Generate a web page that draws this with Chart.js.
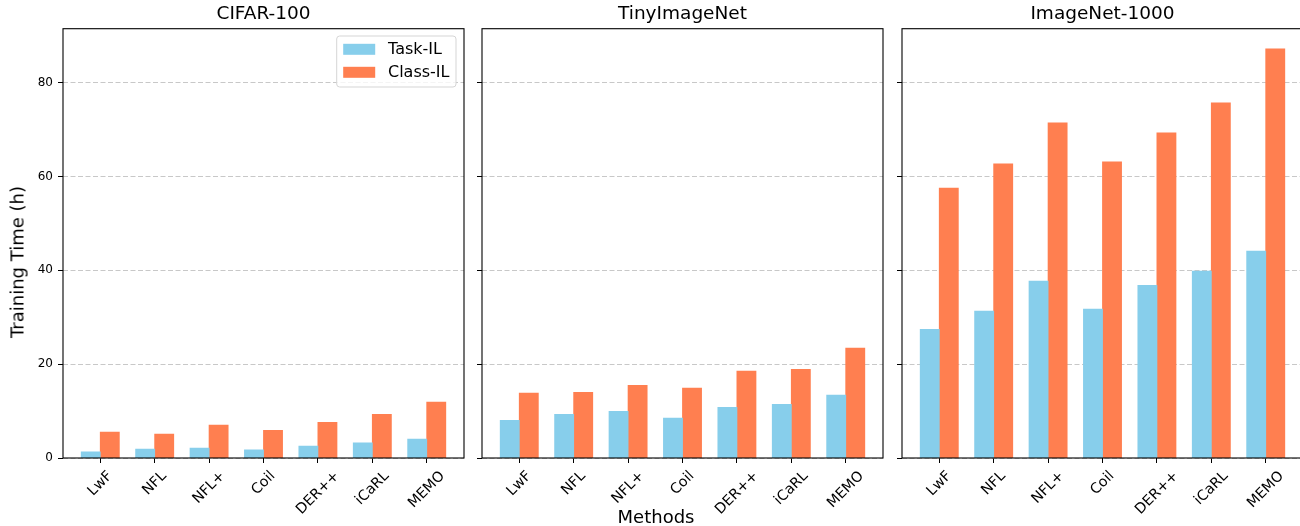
<!DOCTYPE html>
<html>
<head>
<meta charset="utf-8">
<script src="https://cdn.jsdelivr.net/npm/chart.js@4"></script>
<style>
  html, body { margin: 0; padding: 0; background: #fff; overflow: hidden; }
  #figure { position: relative; width: 1300px; height: 526px; overflow: hidden; font-family: 'DejaVu Sans', sans-serif; }
  #figure canvas { position: absolute; top: 0; }
  .axis-label { position: absolute; font-size: 18px; line-height: 21px; color: #000; white-space: nowrap; }
  #xlabel { left: 656px; top: 506px; transform: translateX(-50%); }
  #ylabel { left: 17px; top: 262px; transform: translate(-50%, -50%) rotate(-90deg); }
</style>
</head>
<body>
<div id="figure">
  <canvas id="c0" width="470" height="526" style="left:0px"></canvas>
  <canvas id="c1" width="420" height="526" style="left:470px"></canvas>
  <canvas id="c2" width="416" height="526" style="left:890px"></canvas>
  <div class="axis-label" id="xlabel">Methods</div>
  <div class="axis-label" id="ylabel">Training Time (h)</div>
</div>
<script>
const methods = ['LwF', 'NFL', 'NFL+', 'Coil', 'DER++', 'iCaRL', 'MEMO'];
const datasetTitles = ['CIFAR-100', 'TinyImageNet', 'ImageNet-1000'];
const seriesNames = ['Task-IL', 'Class-IL'];
const seriesColors = ['#87CEEB', '#FF7F50'];

const cifarTaskIL = [1.3, 1.9, 2.1, 1.7, 2.5, 3.2, 4.0];
const cifarClassIL = [5.5, 5.1, 7.0, 5.9, 7.6, 9.3, 11.9];
const tinyTaskIL = [8.0, 9.3, 9.95, 8.5, 10.8, 11.45, 13.4];
const tinyClassIL = [13.8, 14.0, 15.5, 14.9, 18.5, 18.9, 23.4];
const imagenetTaskIL = [27.4, 31.3, 37.7, 31.7, 36.8, 39.8, 44.1];
const imagenetClassIL = [57.5, 62.7, 71.4, 63.1, 69.3, 75.7, 87.2];

const yTicks = [0, 20, 40, 60, 80];
const yMax = 91.5;

Chart.defaults.font.family = "'DejaVu Sans', sans-serif";
Chart.defaults.color = '#000';

// box round each axes, like matplotlib spines
const framePlugin = {
  id: 'frame',
  afterDraw(chart) {
    const {ctx, chartArea: a} = chart;
    ctx.save();
    ctx.strokeStyle = '#000';
    ctx.lineWidth = 1.1;
    ctx.strokeRect(a.left, a.top, a.right - a.left, a.bottom - a.top);
    ctx.restore();
  }
};

// x labels rotated 45deg round their centre (matplotlib ha='center')
const rotatedLabels = {
  id: 'rotatedLabels',
  afterDraw(chart) {
    const {ctx, chartArea} = chart;
    const xScale = chart.scales.x;
    const fs = 14.3;
    ctx.save();
    ctx.font = fs + "px 'DejaVu Sans'";
    ctx.fillStyle = '#000';
    ctx.textAlign = 'center';
    ctx.textBaseline = 'middle';
    methods.forEach((m, i) => {
      const w = ctx.measureText(m).width;
      const side = (w + fs * 1.16) / Math.SQRT2;
      ctx.save();
      ctx.translate(xScale.getPixelForValue(i), chartArea.bottom + 10 + side / 2);
      ctx.rotate(-Math.PI / 4);
      ctx.fillText(m, 0, 0);
      ctx.restore();
    });
    ctx.restore();
  }
};

// legend in the upper right corner with a frame
const boxLegend = {
  id: 'boxLegend',
  afterDraw(chart) {
    const {ctx, chartArea} = chart;
    const fs = 16;
    ctx.save();
    ctx.font = fs + "px 'DejaVu Sans'";
    const sets = chart.data.datasets;
    const textW = Math.max(...sets.map(d => ctx.measureText(d.label).width));
    const pad = 6.5, handleW = 32, handleH = 11, gap = 12.8, rowH = 23;
    const w = pad + handleW + gap + textW + pad;
    const h = 51;
    const right = chartArea.right - 8;
    const left = right - w;
    const top = chartArea.top + 7.3;

    ctx.beginPath();
    ctx.roundRect(left, top, w, h, 3);
    ctx.fillStyle = 'rgba(255,255,255,0.8)';
    ctx.fill();
    ctx.strokeStyle = '#d5d5d5';
    ctx.lineWidth = 1;
    ctx.stroke();

    ctx.textBaseline = 'middle';
    ctx.textAlign = 'left';
    sets.forEach((d, i) => {
      const cy = top + 13.3 + i * rowH;
      ctx.fillStyle = d.backgroundColor;
      ctx.fillRect(left + pad, cy - handleH / 2, handleW, handleH);
      ctx.fillStyle = '#000';
      ctx.fillText(d.label, left + pad + handleW + gap, cy + 0.5);
    });
    ctx.restore();
  }
};

const panels = [
  { title: datasetTitles[0], task: cifarTaskIL, cls: cifarClassIL, yWidth: 63, padRight: 6 },
  { title: datasetTitles[1], task: tinyTaskIL, cls: tinyClassIL, yWidth: 12, padRight: 7 },
  { title: datasetTitles[2], task: imagenetTaskIL, cls: imagenetClassIL, yWidth: 12, padRight: 3 }
];

panels.forEach((panel, index) => {
  const series = [panel.task, panel.cls];
  new Chart(document.getElementById('c' + index), {
    type: 'bar',
    data: {
      datasets: series.map((values, s) => ({
        label: seriesNames[s],
        data: values.map((v, i) => ({ x: i, y: v })),
        backgroundColor: seriesColors[s],
        borderWidth: 0,
        inflateAmount: 0.4,
        categoryPercentage: 0.7,
        barPercentage: 1.0
      }))
    },
    options: {
      responsive: false,
      animation: false,
      devicePixelRatio: 1,
      layout: { padding: { left: 0, right: panel.padRight, top: 0, bottom: 0 } },
      scales: {
        x: {
          type: 'linear',
          min: -0.685,
          max: 6.685,
          offset: false,
          afterBuildTicks: axis => { axis.ticks = methods.map((m, i) => ({ value: i })); },
          afterFit: axis => { axis.height = 68; },
          ticks: { display: false },
          grid: {
            drawOnChartArea: false,
            drawTicks: true,
            tickLength: 5,
            tickColor: '#000',
            tickWidth: 1,
            offset: false
          },
          border: { display: false }
        },
        y: {
          min: 0,
          max: yMax,
          afterBuildTicks: axis => { axis.ticks = yTicks.map(v => ({ value: v })); },
          afterFit: axis => { axis.width = panel.yWidth; },
          ticks: {
            display: index === 0,
            padding: 5,
            color: '#000',
            font: { size: 12 }
          },
          grid: {
            color: 'rgba(176,176,176,0.7)',
            lineWidth: 1,
            tickLength: 5,
            tickColor: '#000',
            tickWidth: 1,
            tickBorderDash: []
          },
          border: { display: false, dash: [5, 2.5] }
        }
      },
      plugins: {
        legend: { display: false },
        tooltip: { enabled: false },
        title: {
          display: true,
          text: panel.title,
          fullSize: false,
          color: '#000',
          font: { size: 18.5, weight: 'normal' },
          padding: { top: 3.5, bottom: 3 }
        }
      }
    },
    plugins: index === 0 ? [framePlugin, rotatedLabels, boxLegend] : [framePlugin, rotatedLabels]
  });
});
</script>
</body>
</html>
